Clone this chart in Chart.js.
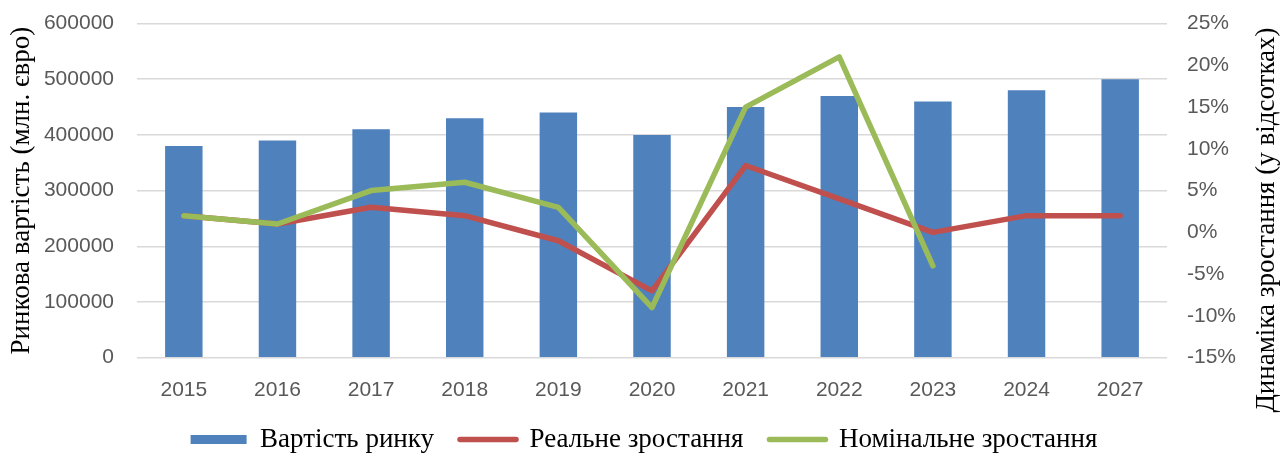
<!DOCTYPE html>
<html>
<head>
<meta charset="utf-8">
<script src="https://cdn.jsdelivr.net/npm/chart.js@4"></script>
<style>
  html, body { margin: 0; padding: 0; background: #fff; }
  #wrap { width: 1288px; height: 456px; }
</style>
</head>
<body>
<div id="wrap"><canvas id="chart"></canvas></div>
<script>
const years = ["2015", "2016", "2017", "2018", "2019", "2020", "2021", "2022", "2023", "2024", "2027"];
const marketValue = [380000, 390000, 410000, 430000, 440000, 400000, 450000, 470000, 460000, 480000, 500000];
const realGrowth = [2, 1, 3, 2, -1, -7, 8, 4, 0, 2, 2];
const nominalGrowth = [2, 1, 5, 6, 3, -9, 15, 21, -4, null, null];

const seriesNames = ["Вартість ринку", "Реальне зростання", "Номінальне зростання"];
const leftTitle = "Ринкова вартість (млн. євро)";
const rightTitle = "Динаміка зростання (у відсотках)";

const BLUE = "#4F81BD", RED = "#C0504D", GREEN = "#9BBB59";
const tickFont = { family: "Liberation Sans", size: 21 };
const serif = { family: "Liberation Serif", size: 27 };

// right axis title reads bottom-to-top, like the left one
const rightTitlePlugin = {
  id: "rightTitle",
  afterDraw(chart) {
    const c = chart.ctx;
    c.save();
    c.translate(1267, 220);
    c.rotate(-Math.PI / 2);
    c.font = `${serif.size}px ${serif.family}`;
    c.fillStyle = "#000";
    c.textAlign = "center";
    c.textBaseline = "middle";
    c.fillText(rightTitle, 0, 0);
    c.restore();
  }
};

// fixed legend height so wide item spacing doesn't squeeze the plot
const legendHeight = {
  id: "legendHeight",
  beforeInit(chart) {
    const fit = chart.legend.fit;
    chart.legend.fit = function () {
      fit.call(this);
      this.height = 56;
    };
  }
};

const ctx = document.getElementById("chart").getContext("2d");

new Chart(ctx, {
  data: {
    labels: years,
    datasets: [
      {
        type: "bar",
        label: seriesNames[0],
        data: marketValue,
        backgroundColor: BLUE,
        yAxisID: "y",
        barPercentage: 0.4,
        categoryPercentage: 1,
        order: 2
      },
      {
        type: "line",
        label: seriesNames[1],
        data: realGrowth,
        borderColor: RED,
        borderWidth: 5.5,
        pointRadius: 0,
        tension: 0,
        borderJoinStyle: "round",
        borderCapStyle: "round",
        yAxisID: "y1",
        order: 1
      },
      {
        type: "line",
        label: seriesNames[2],
        data: nominalGrowth,
        borderColor: GREEN,
        borderWidth: 5.5,
        pointRadius: 0,
        tension: 0,
        borderJoinStyle: "round",
        borderCapStyle: "round",
        yAxisID: "y1",
        order: 0
      }
    ]
  },
  options: {
    responsive: true,
    maintainAspectRatio: false,
    animation: false,
    layout: { padding: { top: 23.5, left: 0, right: 0, bottom: 0 } },
    plugins: {
      tooltip: { enabled: false },
      legend: {
        position: "bottom",
        labels: {
          color: "#000",
          font: serif,
          usePointStyle: true,
          pointStyleWidth: 56,
          boxHeight: 9,
          padding: 26,
          generateLabels: chart => chart.data.datasets.map((ds, i) => ({
            text: ds.label,
            fillStyle: ds.type === "bar" ? ds.backgroundColor : ds.borderColor,
            strokeStyle: ds.type === "bar" ? ds.backgroundColor : ds.borderColor,
            lineWidth: ds.type === "bar" ? 0 : 5.5,
            lineCap: "round",
            pointStyle: ds.type === "bar" ? "rect" : "line",
            fontColor: "#000",
            hidden: false,
            datasetIndex: i
          }))
        }
      }
    },
    scales: {
      x: {
        grid: { display: false, drawTicks: false },
        border: { display: false },
        ticks: { color: "#595959", font: tickFont, padding: 20 },
        afterFit: s => { s.height = 42.3; }
      },
      y: {
        position: "left",
        min: 0,
        max: 600000,
        ticks: { stepSize: 100000, color: "#595959", font: tickFont, padding: 0, callback: v => String(v) },
        grid: { color: "#D9D9D9", lineWidth: 1.5, drawTicks: true, tickLength: 23, tickColor: "rgba(0,0,0,0)" },
        border: { display: false },
        title: { display: true, text: leftTitle, color: "#000", font: serif, padding: { top: 6, bottom: 0 } },
        afterFit: s => { s.width = 137; }
      },
      y1: {
        position: "right",
        min: -15,
        max: 25,
        ticks: { stepSize: 5, color: "#595959", font: tickFont, padding: 0, callback: v => v + "%" },
        grid: { display: false, drawTicks: true, tickLength: 20, tickColor: "rgba(0,0,0,0)" },
        border: { display: false },
        title: { display: false },
        afterFit: s => { s.width = 121; }
      }
    }
  },
  plugins: [rightTitlePlugin, legendHeight]
});
</script>
</body>
</html>
